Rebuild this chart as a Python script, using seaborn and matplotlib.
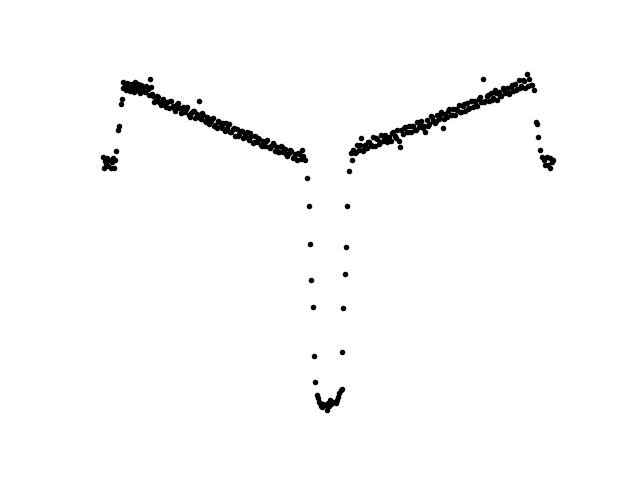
import numpy as np
import pandas as pd
import matplotlib
matplotlib.use("Agg")
import matplotlib.pyplot as plt
import seaborn as sns

# Light curve: x = phase (arbitrary units), y = magnitude (larger = fainter)
pre_x = [103, 104, 105, 106, 107, 108, 109, 111, 112, 113, 114, 115, 116, 118, 119]
pre_y = [157, 168, 161, 164, 158, 166, 160, 168, 162, 158, 168, 160, 151, 130, 126]

top_x = [121, 122, 123, 123, 125, 126, 127, 128, 129, 130, 131, 132, 133, 134, 135,
         136, 137, 138, 139, 140, 141, 142, 143, 145, 146, 148, 149, 150, 151, 152]
top_y = [104, 99, 88, 82, 86, 90, 83, 88, 85, 91, 84, 88, 86, 92, 82,
         87, 90, 84, 88, 93, 85, 89, 87, 92, 86, 89, 95, 79, 87, 94]

left_x = [153, 155, 157, 159, 161, 163, 165, 167, 169, 171, 173, 175, 177, 179, 181,
          183, 185, 187, 189, 191, 193, 195, 197, 199, 201, 203, 205, 207, 209, 211,
          213, 215, 217, 219, 221, 223, 225, 227, 229, 231, 233, 235, 237, 239, 241,
          243, 245, 247, 249, 251, 253, 255, 257, 259, 261, 263, 265, 267, 269, 271,
          273, 275, 277, 279, 281, 283, 285, 287, 289, 291, 293, 295, 297, 299, 301,
          303, 305,
          154, 158, 162, 166, 170, 174, 178, 182, 186, 190, 194, 198, 202, 206, 210,
          214, 218, 222, 226, 230, 234, 238, 242, 246, 250, 254, 258, 262, 266, 270,
          274, 278, 282, 286, 290, 294, 298, 302]
left_y = [96, 101, 96, 102, 105, 99, 105, 102, 108, 101, 106, 111, 104, 108, 113,
          107, 112, 107, 115, 113, 111, 118, 114, 101, 119, 115, 121, 117, 124, 121,
          118, 125, 128, 122, 126, 123, 131, 128, 124, 132, 129, 136, 129, 134, 131,
          138, 135, 132, 140, 136, 143, 136, 142, 139, 145, 141, 146, 140, 147, 146,
          143, 151, 147, 152, 146, 152, 149, 156, 153, 151, 158, 154, 160, 154, 159,
          156, 160,
          102, 97, 102, 107, 101, 108, 103, 112, 109, 117, 111, 117, 113, 122, 119,
          126, 121, 128, 123, 132, 128, 136, 131, 137, 133, 142, 138, 146, 141, 148,
          145, 152, 147, 154, 150, 157, 153, 150]

eclipse_x = [307, 309, 310, 311, 313, 314, 315, 317, 318, 319, 320, 321, 322, 323,
             325, 327, 328, 329, 330, 331, 333, 336, 337, 338, 339, 341, 342, 342,
             343, 345, 346, 347, 349]
eclipse_y = [178, 206, 244, 280, 307, 356, 382, 395, 398, 402, 403, 406, 407, 404,
             405, 410, 403, 406, 400, 404, 402, 403, 400, 397, 393, 390, 389, 352,
             308, 274, 247, 206, 171]

right_x = [351, 353, 355, 357, 359, 361, 363, 365, 367, 369, 371, 373, 375, 377, 379,
           381, 383, 385, 387, 389, 391, 393, 395, 397, 399, 401, 403, 405, 407, 409,
           411, 413, 415, 417, 419, 421, 423, 425, 427, 429, 431, 433, 435, 437, 439,
           441, 443, 445, 447, 449, 451, 453, 455, 457, 459, 461, 463, 465, 467, 469,
           471, 473, 475, 477, 479, 481, 483, 485, 487, 489, 491, 493, 495, 497, 499,
           501, 503, 505, 507, 509, 511, 513, 515, 517, 519, 521, 523, 525, 527, 529,
           531,
           352, 356, 360, 364, 368, 372, 376, 380, 384, 388, 392, 396, 400, 404, 408,
           412, 416, 420, 424, 428, 432, 436, 440, 444, 448, 452, 456, 460, 464, 468,
           472, 476, 480, 484, 488, 492, 496, 500, 504, 508, 512, 516, 520, 524, 528]
right_y = [153, 150, 153, 145, 150, 138, 151, 145, 148, 142, 145, 137, 146, 139, 144,
           135, 141, 135, 142, 137, 141, 132, 136, 130, 141, 130, 134, 127, 132, 126,
           132, 126, 130, 122, 127, 121, 128, 132, 120, 124, 116, 121, 123, 115, 119,
           112, 128, 114, 117, 109, 115, 109, 115, 110, 105, 112, 106, 111, 103, 108,
           101, 107, 101, 106, 99, 102, 79, 101, 96, 101, 93, 98, 90, 100, 92,
           96, 88, 93, 88, 94, 87, 91, 84, 89, 80, 86, 80, 88, 74, 79,
           85,
           160, 152, 145, 149, 142, 146, 138, 142, 137, 140, 133, 138, 147, 128, 132,
           126, 130, 123, 126, 126, 117, 121, 115, 119, 111, 115, 109, 112, 104, 109,
           101, 105, 97, 102, 95, 100, 93, 96, 90, 92, 85, 90, 88, 81, 86]

post_x = [532, 534, 536, 537, 538, 540, 542, 544, 545, 547, 548, 550, 550, 552, 553]
post_y = [85, 90, 122, 124, 137, 150, 157, 160, 165, 157, 165, 158, 168, 162, 160]

df = pd.DataFrame({
    "phase": pre_x + top_x + left_x + eclipse_x + right_x + post_x,
    "mag": pre_y + top_y + left_y + eclipse_y + right_y + post_y,
})

fig, ax = plt.subplots(figsize=(6.4, 4.8), dpi=100)
sns.scatterplot(data=df, x="phase", y="mag", color="black", s=16, linewidth=0, ax=ax)
ax.invert_yaxis()
ax.set_axis_off()
fig.savefig("out.png", dpi=100)
